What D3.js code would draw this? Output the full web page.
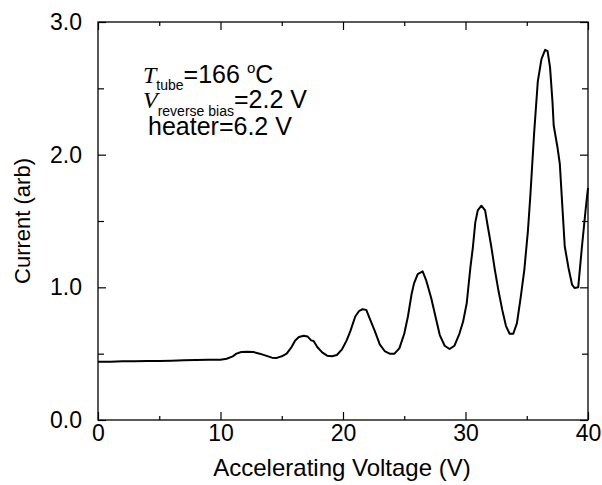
<!DOCTYPE html>
<html>
<head>
<meta charset="utf-8">
<script src="https://cdn.jsdelivr.net/npm/d3@7"></script>
<style>
  body { margin: 0; background: #fff; }
  svg text { font-family: "Liberation Sans", Arial, sans-serif; fill: #000; }
</style>
</head>
<body>
<div id="chart"></div>
<script>
// accelerating voltage (V) and collector current (arb)
var voltage = [0, 1, 2, 3, 4, 5, 6, 7, 8, 9, 9.5, 10, 10.5, 11, 11.3, 11.7, 12.2, 12.7, 13.2, 13.7,
  14.2, 14.6, 15, 15.4, 15.8, 16.1, 16.4, 16.8, 17.1, 17.4, 17.6, 17.9, 18.3, 18.7, 19.1, 19.5,
  19.9, 20.3, 20.6, 21.0, 21.3, 21.6, 21.9, 22.2, 22.6, 23.0, 23.4, 23.8, 24.2, 24.6, 25.0, 25.3,
  25.6, 25.8, 26.1, 26.5, 26.8, 27.2, 27.6, 27.9, 28.3, 28.7, 29.1, 29.5, 29.8, 30.1, 30.4, 30.6,
  30.8, 31.0, 31.3, 31.6, 31.8, 32.1, 32.4, 32.7, 33.0, 33.3, 33.6, 33.9, 34.2, 34.5, 34.8, 35.1,
  35.3, 35.6, 35.9, 36.2, 36.5, 36.7, 36.9, 37.1, 37.2, 37.5, 37.7, 37.9, 38.1, 38.4, 38.7, 38.9,
  39.2, 39.5, 39.8, 40.0];
var current = [0.44, 0.44, 0.443, 0.443, 0.445, 0.445, 0.447, 0.45, 0.452, 0.455, 0.455, 0.455, 0.462, 0.48, 0.5, 0.512, 0.515, 0.512, 0.5, 0.485,
  0.47, 0.468, 0.48, 0.5, 0.55, 0.6, 0.625, 0.635, 0.63, 0.6, 0.595, 0.55, 0.51, 0.485, 0.48, 0.49,
  0.53, 0.6, 0.67, 0.78, 0.82, 0.835, 0.83, 0.76, 0.67, 0.57, 0.52, 0.5, 0.5, 0.54, 0.65, 0.78,
  0.95, 1.03, 1.1, 1.12, 1.05, 0.92, 0.76, 0.64, 0.56, 0.535, 0.56, 0.65, 0.74, 0.88, 1.15, 1.3,
  1.49, 1.58, 1.615, 1.58, 1.47, 1.31, 1.13, 0.97, 0.83, 0.71, 0.65, 0.65, 0.73, 0.92, 1.13, 1.43,
  1.7, 2.16, 2.55, 2.72, 2.79, 2.78, 2.66, 2.4, 2.22, 2.06, 1.93, 1.62, 1.31, 1.15, 1.02, 0.995,
  1.0, 1.3, 1.58, 1.75];

var xMajor = [0, 10, 20, 30, 40];
var xMinor = [5, 15, 25, 35];
var yMajor = [0, 1, 2, 3];
var yMinor = [0.5, 1.5, 2.5];

var margin = {top: 22, right: 14, bottom: 65, left: 98},
    width = 602 - margin.left - margin.right,
    height = 485 - margin.top - margin.bottom;

var svg = d3.select("#chart").append("svg")
    .attr("width", 602).attr("height", 485)
  .append("g")
    .attr("transform", "translate(" + margin.left + "," + margin.top + ")");

var x = d3.scaleLinear().domain([0, 40]).range([0, width]);
var y = d3.scaleLinear().domain([0, 3]).range([height, 0]);

function styleAxis(g) {
  g.select(".domain").remove();
  g.selectAll("line").attr("stroke", "#000").attr("stroke-width", 1.2);
  g.selectAll("text").style("font-size", "23px");
}

// labelled axes
svg.append("g").attr("transform", "translate(0," + height + ")")
  .call(d3.axisBottom(x).tickValues(xMajor).tickSize(-8).tickPadding(5).tickFormat(d3.format("d")))
  .call(styleAxis);
svg.append("g")
  .call(d3.axisLeft(y).tickValues(yMajor).tickSize(-8).tickPadding(16).tickFormat(d3.format(".1f")))
  .call(styleAxis);

// minor ticks and mirrored ticks, no labels
svg.append("g").attr("transform", "translate(0," + height + ")")
  .call(d3.axisBottom(x).tickValues(xMinor).tickSize(-4).tickFormat(""))
  .call(styleAxis);
svg.append("g")
  .call(d3.axisTop(x).tickValues(xMajor).tickSize(-8).tickFormat(""))
  .call(styleAxis);
svg.append("g")
  .call(d3.axisTop(x).tickValues(xMinor).tickSize(-4).tickFormat(""))
  .call(styleAxis);
svg.append("g")
  .call(d3.axisLeft(y).tickValues(yMinor).tickSize(-6).tickFormat(""))
  .call(styleAxis);
svg.append("g").attr("transform", "translate(" + width + ",0)")
  .call(d3.axisRight(y).tickValues(yMajor).tickSize(-8).tickFormat(""))
  .call(styleAxis);
svg.append("g").attr("transform", "translate(" + width + ",0)")
  .call(d3.axisRight(y).tickValues(yMinor).tickSize(-6).tickFormat(""))
  .call(styleAxis);

// frame
svg.append("rect")
  .attr("width", width).attr("height", height)
  .attr("fill", "none").attr("stroke", "#000").attr("stroke-width", 1.3);

// curve
var pts = voltage.map(function(v, i) { return [v, current[i]]; });
svg.append("path")
  .datum(pts)
  .attr("fill", "none")
  .attr("stroke", "#000")
  .attr("stroke-width", 2)
  .attr("stroke-linejoin", "round")
  .attr("d", d3.line().x(function(d) { return x(d[0]); }).y(function(d) { return y(d[1]); }));

// axis titles
svg.append("text")
  .attr("x", 244).attr("y", 454)
  .attr("text-anchor", "middle")
  .style("font-size", "24px")
  .text("Accelerating Voltage (V)");
svg.append("text")
  .attr("transform", "translate(-68," + (height / 2) + ") rotate(-90)")
  .attr("text-anchor", "middle")
  .style("font-size", "22px")
  .text("Current (arb)");

// annotation
var serif = "Liberation Serif, Times New Roman, serif";
var ann = svg.append("g").attr("transform", "translate(-98,-22)");
var t1 = ann.append("text").attr("x", 143).attr("y", 83).style("font-size", "25px");
t1.append("tspan").style("font-family", serif).style("font-style", "italic").style("font-size", "24px").text("T");
t1.append("tspan").attr("dy", 7).style("font-size", "14px").text("tube");
t1.append("tspan").attr("dy", -7).text("=166 ");
t1.append("tspan").attr("dy", -10).style("font-size", "15px").text("o");
t1.append("tspan").attr("dy", 10).text("C");

var t2 = ann.append("text").attr("x", 143).attr("y", 108).style("font-size", "25px");
t2.append("tspan").style("font-family", serif).style("font-style", "italic").style("font-size", "24px").text("V");
t2.append("tspan").attr("dy", 8).style("font-size", "14px").text("reverse bias");
t2.append("tspan").attr("dy", -8).text("=2.2 V");

ann.append("text").attr("x", 148).attr("y", 135).style("font-size", "25px").text("heater=6.2 V");
</script>
</body>
</html>
